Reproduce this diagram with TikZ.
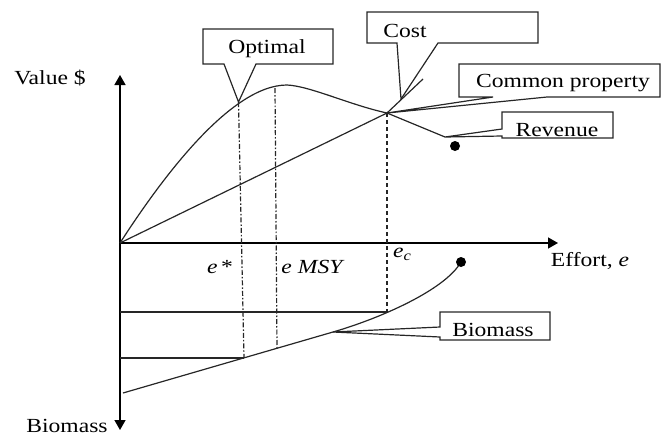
\documentclass[tikz,border=0pt]{standalone}
\usepackage{fontspec}
\setmainfont{Liberation Serif}[FakeStretch=1.18]
\usetikzlibrary{arrows.meta}
\begin{document}
\begin{tikzpicture}[x=1pt,y=-1pt,
  every node/.style={font=\fontsize{20}{24}\selectfont, inner sep=0pt},
  axis/.style={line width=1.4pt, {Triangle[width=11pt,length=10pt]}-{Triangle[width=11pt,length=10pt]}},
  haxis/.style={line width=1.4pt, -{Triangle[width=11pt,length=10pt]}},
  curve/.style={line width=1.2pt, black!85},
  callout/.style={line width=1.2pt, black!85, line join=miter},
  dashdot/.style={line width=1.2pt, black!85, dash pattern=on 5pt off 2pt on 1.5pt off 2pt},
  dashedline/.style={line width=1.2pt, black!85, dash pattern=on 4pt off 3pt},
  dot/.style={fill=black}]
\useasboundingbox (0,0) rectangle (661,437);

% key coordinates
\coordinate (O) at (120,243);
\coordinate (ytop) at (120,75);
\coordinate (ybot) at (120,430);
\coordinate (xend) at (558,243);
\coordinate (opt) at (238.5,102);
\coordinate (peak) at (287,85);
\coordinate (msytop) at (275,88);
\coordinate (cross) at (387,113);
\coordinate (revend) at (445,137);
\coordinate (costend) at (423,79);
\coordinate (costtip) at (401,99);
\coordinate (ecbot) at (387,312);
\coordinate (ecleft) at (120,312);
\coordinate (optbot) at (244,358);
\coordinate (optleft) at (120,358);
\coordinate (msybot) at (277,349);
\coordinate (bstart) at (123,393);
\coordinate (bmid) at (333,332);
\coordinate (bend) at (461,262);

% axes
\draw[axis] (ytop) -- (ybot);
\draw[haxis] (O) -- (xend);

% revenue curve
\draw[curve] (O) .. controls (160,181) and (230,85) .. (peak)
  .. controls (310,86) and (350,105) .. (cross) -- (revend);
% cost line
\draw[curve] (O) -- (cross) -- (costend);

% biomass curve
\draw[curve] (bstart) -- (bmid) .. controls (380,318.4) and (445,290) .. (bend);

% verticals and horizontals
\draw[dashdot] (opt) -- (optbot);
\draw[dashdot] (msytop) -- (msybot);
\draw[dashedline] (cross) -- (ecbot);
\draw[curve] (ecleft) -- (ecbot);
\draw[curve] (optleft) -- (optbot);

% dots
\fill[dot] (455,146) circle (5pt);
\fill[dot] (bend) circle (5pt);

% callouts
\draw[callout] (203,29) -- (333,29) -- (333,64) -- (256,64) -- (opt) -- (224,64) -- (203,64) -- cycle;
\draw[callout] (367,12) -- (538,12) -- (538,43) -- (438,43) -- (costtip) -- (397,43) -- (367,43) -- cycle;
\draw[callout] (459,64) -- (660,64) -- (660,97) -- (547,97) -- (cross) -- (493,97) -- (459,97) -- cycle;
\draw[callout] (502,112) -- (613,112) -- (613,138) -- (502,138) -- (502,136) -- (revend) -- (502,129) -- cycle;
\draw[callout] (440,312) -- (550,312) -- (550,340) -- (440,340) -- (440,337) -- (bmid) -- (440,327) -- cycle;

% texts
\node[anchor=base] (optimal) at (267,53) {Optimal};
\node[anchor=base] (cost) at (405,37) {Cost};
\node[anchor=base] (common) at (563,87) {Common property};
\node[anchor=base] (revenue) at (557,136) {Revenue};
\node[anchor=base] (biomass) at (493,336) {Biomass};
\node[anchor=base] (value) at (50,84) {Value \$};
\node[anchor=base] (biomassaxis) at (67,432) {Biomass};
\node[anchor=base] (effort) at (590,266) {Effort, \textit{e}};
\node[anchor=base] (estar) at (220,273) {\textit{e}\,*};
\node[anchor=base] (emsy) at (313,273) {\textit{e MSY}};
\node[anchor=base west] (ec) at (393,257) {\textit{e}\textsubscript{\textit{c}}};
\end{tikzpicture}
\end{document}
